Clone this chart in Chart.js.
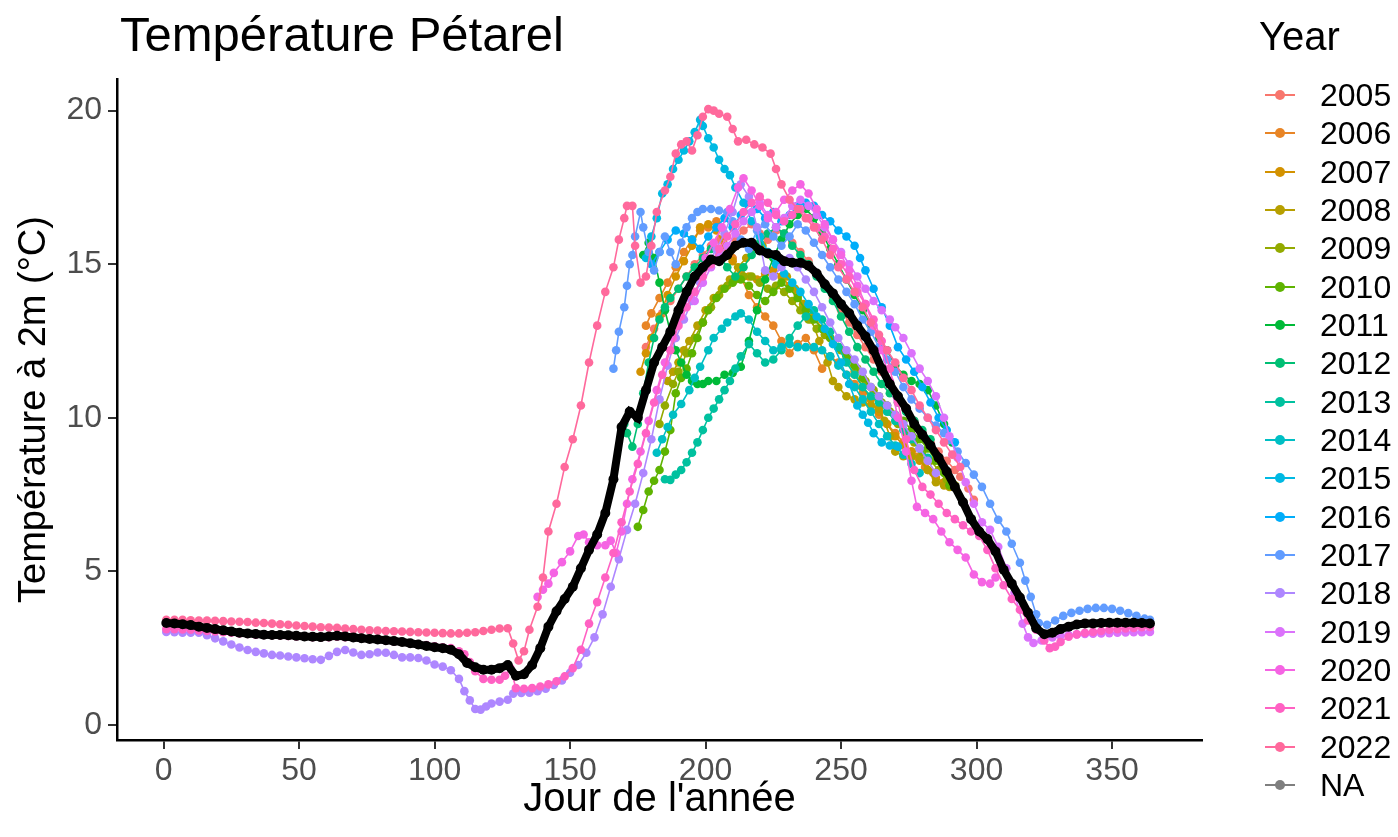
<!DOCTYPE html>
<html>
<head>
<meta charset="utf-8">
<script src="https://cdn.jsdelivr.net/npm/chart.js@4.4.1/dist/chart.umd.min.js"></script>
<style>
  body { margin: 0; background: #fff; }
  #wrap { position: relative; width: 1398px; height: 837px; background: #fff; font-family: "Liberation Sans", Arial, sans-serif; }
  #title { position: absolute; left: 120px; top: 10px; font-size: 49px; line-height: 48px; color: #000; white-space: nowrap; }
  #legTitle { position: absolute; left: 1259px; top: 16px; font-size: 40px; line-height: 40px; color: #000; }
  .legItem { position: absolute; left: 1262px; height: 32px; }
  .legItem .ln { position: absolute; left: 3px; top: 15px; width: 30px; height: 2px; }
  .legItem .dt { position: absolute; left: 13px; top: 11px; width: 10px; height: 10px; border-radius: 50%; }
  .legItem .tx { position: absolute; left: 58px; top: 0; font-size: 32px; line-height: 32px; color: #000; white-space: nowrap; }
</style>
</head>
<body>
<div id="wrap">
  <canvas id="chart" width="1398" height="837"></canvas>
  <div id="title">Température Pétarel</div>
  <div id="legTitle">Year</div>
  <div id="legend"></div>
</div>
<script>
// axes
const DAY_TICKS = [0, 50, 100, 150, 200, 250, 300, 350];
const TEMP_TICKS = [0, 5, 10, 15, 20];

// années et couleurs (palette ggplot)
const years = ['2005', '2006', '2007', '2008', '2009', '2010', '2011', '2012', '2013',
  '2014', '2015', '2016', '2017', '2018', '2019', '2020', '2021', '2022'];
const yearColors = ['#F8766D', '#E88526', '#D39200', '#B79F00', '#93AA00', '#5EB300', '#00BA38', '#00BF74', '#00C19F',
  '#00BFC4', '#00B9E3', '#00ADFA', '#619CFF', '#AE87FF', '#DB72FB', '#F564E3', '#FF61C3', '#FF699C'];

// [jour, température]
const t2005 = [[178,12.3],[181,12.9],[184,13.4],[187,13.8],[190,14.2],[193,14.6],[196,15.0],[199,15.3],[202,15.6],[205,15.8],[208,15.5],[211,15.8],[214,16.1],[217,16.3],[220,16.0],[223,15.8],[226,16.1],[229,16.0],[232,15.7],[235,15.4],[238,15.1],[241,14.7],[244,14.3],[247,13.9],[250,13.5],[253,13.1],[256,12.7],[259,12.3],[262,11.9],[265,11.5],[268,11.1],[271,10.7],[274,10.3],[277,9.9],[280,9.5],[283,9.2],[286,8.9],[289,8.6],[292,8.3],[294,8.08],[297,7.7],[299,7.33]];
const t2006 = [[178,13.0],[180,13.4],[183,13.9],[186,14.4],[189,14.9],[192,15.4],[195,15.8],[198,16.1],[201,16.2],[204,16.4],[207,15.9],[210,15.2],[213,14.6],[216,14.0],[219,13.6],[222,13.3],[225,13.0],[228,12.5],[231,12.1],[234,12.4],[237,12.6],[240,12.2],[243,11.6],[246,12.0],[249,11.8],[252,11.4],[255,11.1],[258,10.8],[261,10.4],[264,10.1],[267,9.8],[270,9.5],[273,9.2],[276,8.9],[278,8.73],[281,8.4],[284,8.2]];
const t2007 = [[176,11.5],[178,12.1],[180,12.6],[183,13.3],[186,14.0],[189,14.6],[192,15.1],[195,15.6],[198,16.2],[201,16.3],[204,16.1],[207,15.6],[210,15.1],[213,14.8],[216,14.6],[219,14.5],[222,14.7],[225,14.8],[228,14.6],[231,14.3],[234,14.0],[237,13.6],[240,13.3],[243,12.9],[246,12.6],[249,12.3],[252,11.9],[255,11.5],[258,11.0],[261,10.6],[264,10.2],[267,9.8],[270,9.4],[273,9.1],[276,8.9],[279,8.6],[282,8.3],[285,8.05],[288,7.9]];
const t2008 = [[186,11.2],[188,11.5],[190,11.8],[192,12.2],[194,12.5],[197,13.0],[200,13.5],[203,13.9],[206,14.2],[209,14.5],[212,14.9],[215,15.2],[218,15.5],[221,15.6],[224,15.3],[227,15.0],[230,14.6],[233,14.2],[236,13.7],[239,13.2],[242,12.5],[245,11.8],[247,11.2],[249,11.0],[252,10.7],[255,10.6],[258,10.5],[261,10.4],[264,10.3],[266,9.9],[268,9.4],[270,8.9],[273,8.75],[276,8.75],[279,8.7],[282,8.3],[285,7.9],[288,7.8],[290,7.75]];
const t2009 = [[183,9.8],[185,10.4],[188,11.1],[190,11.5],[193,12.1],[196,12.6],[199,13.1],[202,13.6],[205,14.0],[208,14.3],[211,14.5],[214,14.6],[217,14.6],[220,14.4],[223,14.2],[226,14.3],[229,14.1],[232,13.8],[235,13.5],[238,13.2],[241,12.9],[244,12.7],[247,12.5],[250,12.2],[253,11.9],[256,11.6],[259,11.2],[262,10.9],[265,10.5],[268,10.2],[271,9.8],[274,9.5],[277,9.2],[280,8.9],[283,8.6],[286,8.3],[289,8.0],[292,7.8]];
const t2010 = [[175,6.45],[177,7.0],[179,7.6],[181,7.95],[183,8.3],[185,8.9],[187,9.6],[189,10.8],[191,11.3],[193,11.6],[195,12.1],[197,12.6],[199,13.1],[201,13.5],[204,13.9],[207,14.2],[210,14.4],[213,14.5],[216,14.3],[219,14.0],[222,13.8],[225,14.1],[228,14.4],[231,14.2],[234,13.9],[237,13.5],[240,13.2],[243,12.9],[246,12.6],[249,12.3],[252,12.0],[255,11.7],[258,11.3],[261,11.0],[264,10.7],[267,10.4],[270,10.1],[273,9.9],[276,9.6],[279,9.3],[282,9.0],[285,8.6],[288,8.2],[290,7.8]];
const t2011 = [[177,15.3],[179,15.7],[181,15.2],[183,14.4],[185,13.5],[187,12.8],[189,12.2],[191,11.8],[193,11.4],[195,11.2],[197,11.1],[199,11.1],[201,11.2],[204,11.2],[207,11.4],[210,11.46],[213,11.66],[216,12.5],[219,13.5],[222,14.5],[225,15.2],[228,15.8],[231,16.3],[234,16.6],[237,16.8],[240,16.5],[243,16.0],[246,15.5],[249,15.0],[252,14.5],[255,14.0],[258,13.5],[261,13.0],[264,12.6],[267,12.2],[270,11.7],[273,11.4],[276,11.2],[279,11.1],[282,10.9],[285,10.4],[288,9.8],[291,9.2]];
const t2012 = [[170,9.8],[171,9.5],[173,9.06],[175,9.8],[177,10.8],[179,11.8],[181,12.6],[183,13.2],[185,13.6],[187,13.9],[190,14.2],[193,14.6],[196,14.9],[199,15.2],[202,15.5],[205,15.3],[208,14.9],[211,14.6],[214,14.9],[217,15.3],[220,15.7],[223,16.0],[226,16.2],[229,16.0],[232,15.6],[235,15.3],[238,15.0],[241,14.6],[244,14.2],[247,13.8],[250,13.3],[253,12.8],[256,12.3],[259,11.9],[262,11.5],[265,11.1],[268,10.8],[271,10.5],[274,10.2],[277,9.9],[280,9.6],[283,9.3]];
const t2013 = [[185,8.0],[187,7.98],[189,8.15],[191,8.3],[193,8.55],[195,8.86],[197,9.2],[199,9.6],[201,10.0],[203,10.3],[205,10.6],[207,10.9],[209,11.2],[211,11.6],[213,12.0],[216,12.4],[219,12.1],[222,11.8],[225,11.9],[228,12.2],[231,12.6],[234,13.0],[237,13.3],[240,13.5],[243,13.2],[246,12.8],[249,12.3],[252,11.8],[255,11.4],[258,11.0],[261,10.7],[264,10.5],[267,10.2],[270,9.9],[273,9.6],[276,9.3],[279,9.0],[282,8.7]];
const t2014 = [[182,8.86],[184,9.3],[186,9.7],[188,10.1],[191,10.45],[194,10.9],[196,11.3],[198,11.66],[201,12.2],[203,12.6],[206,12.9],[208,13.1],[211,13.3],[213,13.4],[216,13.2],[219,12.8],[222,12.5],[225,12.2],[228,12.3],[231,12.4],[234,12.3],[237,12.3],[240,12.3],[243,12.2],[246,12.0],[249,11.7],[252,11.4],[255,11.0],[258,10.6],[261,10.2],[264,9.8],[267,9.4],[270,9.1],[273,8.8],[276,8.5],[279,8.2]];
const t2015 = [[178,15.2],[180,15.9],[182,16.5],[184,17.3],[186,17.6],[188,18.1],[190,18.4],[192,18.7],[194,19.0],[196,19.3],[198,19.7],[199,19.5],[201,19.1],[203,18.8],[205,18.4],[207,18.1],[209,17.9],[211,17.5],[214,17.0],[217,16.4],[220,15.9],[223,15.4],[226,15.0],[229,14.7],[232,14.4],[235,14.1],[238,13.7],[241,13.3],[244,12.9],[247,12.4],[250,11.8],[253,11.1],[256,10.4],[258,10.1],[260,9.84],[262,9.5],[265,9.2],[268,9.1],[271,9.06]];
const t2016 = [[180,15.0],[183,15.4],[186,15.8],[189,16.1],[192,16.0],[195,15.8],[198,15.5],[201,15.9],[204,16.2],[207,16.5],[210,16.2],[213,16.6],[216,17.0],[219,16.8],[222,16.5],[225,16.7],[228,16.4],[231,16.6],[234,16.9],[237,17.0],[240,16.9],[243,16.6],[246,16.4],[249,16.1],[252,15.9],[255,15.6],[257,15.2],[259,14.8],[262,14.2],[265,13.6],[268,13.0],[271,12.3],[274,11.9],[277,11.5],[280,11.0],[283,10.5],[286,10.0],[289,9.6],[292,9.2]];
const t2017 = [[166,11.6],[167,12.2],[168,12.8],[170,13.6],[171,14.3],[172,15.0],[173,15.3],[174,15.9],[176,16.7],[177,16.2],[179,15.4],[181,14.8],[183,15.4],[185,15.9],[187,15.4],[189,15.0],[191,15.7],[193,16.2],[195,16.5],[197,16.7],[199,16.8],[202,16.8],[205,16.75],[208,16.7],[210,16.4],[213,15.8],[216,15.5],[219,16.1],[222,16.3],[225,15.9],[228,15.6],[231,15.9],[234,16.3],[237,16.1],[240,15.7],[243,15.3],[246,14.9],[249,14.5],[252,14.1],[255,13.7],[258,13.2],[261,12.8],[264,12.3],[267,11.9],[270,11.5],[273,11.0],[276,10.6],[279,10.3],[282,10.0],[285,9.75],[288,9.5],[290,9.28],[293,8.9],[296,8.53],[299,8.15],[302,7.75],[305,7.2],[308,6.68],[311,6.3],[313,5.9],[316,5.28],[318,4.7],[320,4.17],[322,3.6],[323,3.32],[326,3.26],[329,3.4],[332,3.55],[335,3.65],[338,3.72],[341,3.78],[344,3.81],[347,3.81],[350,3.78],[353,3.72],[356,3.64],[359,3.55],[362,3.46],[364,3.42]];
const t2018 = [[1,3.03],[4,3.02],[7,3.0],[10,3.0],[13,3.0],[16,2.92],[19,2.82],[22,2.72],[25,2.62],[28,2.52],[31,2.44],[34,2.38],[37,2.33],[40,2.28],[43,2.26],[46,2.23],[49,2.2],[52,2.17],[55,2.14],[58,2.12],[61,2.25],[64,2.38],[67,2.44],[70,2.36],[73,2.28],[76,2.3],[79,2.36],[82,2.35],[85,2.28],[88,2.2],[91,2.2],[94,2.18],[97,2.1],[100,1.97],[103,1.9],[106,1.78],[109,1.5],[111,1.1],[113,0.8],[115,0.52],[117,0.5],[119,0.6],[121,0.7],[124,0.76],[127,0.82],[129,1.02],[132,1.04],[135,1.05],[138,1.1],[141,1.18],[144,1.3],[147,1.45],[150,1.7],[153,1.95],[156,2.35],[159,2.85],[162,3.6],[165,4.5],[168,5.4],[171,6.35],[174,7.2],[177,8.2],[180,9.3],[183,10.6],[186,11.7],[189,12.6],[192,13.2],[195,13.8],[198,14.4],[201,15.0],[204,15.5],[207,16.0],[210,16.7],[213,17.6],[216,17.2],[219,16.2],[222,14.8],[225,14.6],[228,14.9],[231,15.2],[234,14.9],[237,14.5],[240,14.1],[243,13.6],[246,13.1],[249,12.6],[252,12.2],[255,11.9],[258,11.5],[261,11.0],[264,10.7],[267,10.4],[270,10.1],[273,9.8],[276,9.4],[279,9.0],[282,8.6],[285,8.2]];
const t2019 = [[196,13.8],[199,14.4],[202,14.9],[205,15.3],[208,15.6],[211,16.0],[214,16.4],[217,16.7],[220,17.0],[223,16.6],[226,16.2],[229,16.5],[232,16.9],[235,17.1],[238,16.9],[241,16.6],[244,16.2],[247,15.8],[250,15.4],[253,15.0],[256,14.6],[259,14.2],[262,13.8],[265,13.5],[268,13.2],[270,12.95],[273,12.6],[276,12.1],[279,11.6],[282,11.2],[285,10.7],[288,10.0],[290,9.4],[293,8.7],[296,7.9],[299,7.2],[302,6.6],[305,6.35],[308,5.8],[311,5.1],[314,4.3],[317,3.3],[319,2.85],[321,2.67],[324,2.75],[328,2.85],[331,2.9],[334,2.93],[337,2.95],[340,2.96],[343,2.97],[346,2.98],[349,2.99],[352,3.0],[355,3.01],[358,3.02],[361,3.02],[364,3.03]];
const t2020 = [[138,4.17],[140,4.4],[142,4.6],[144,4.95],[147,5.3],[150,5.65],[153,6.15],[155,6.2],[157,5.95],[160,5.85],[163,5.85],[165,6.0],[167,5.6],[169,6.3],[171,7.2],[173,8.0],[176,8.9],[179,9.9],[182,10.9],[185,11.8],[188,12.6],[191,13.3],[194,14.0],[197,14.6],[200,15.2],[203,15.7],[206,16.2],[209,16.8],[212,17.5],[214,17.8],[217,17.4],[220,16.9],[223,16.5],[226,16.7],[229,17.1],[232,17.4],[235,17.6],[238,17.3],[241,16.8],[244,16.3],[247,15.8],[250,15.3],[253,14.8],[256,14.3],[259,13.7],[262,13.0],[265,12.2],[268,11.2],[271,10.0],[274,8.9],[276,7.95],[278,7.1],[281,6.9],[284,6.7],[287,6.3],[290,5.95],[293,5.7],[296,5.45],[299,4.9],[302,4.65],[305,4.6],[307,4.8]];
const t2021 = [[1,3.12],[4,3.12],[7,3.11],[10,3.1],[13,3.08],[16,3.06],[19,3.04],[22,3.02],[25,3.0],[28,2.98],[31,2.96],[34,2.94],[37,2.93],[40,2.92],[43,2.91],[46,2.9],[49,2.88],[52,2.87],[55,2.86],[58,2.85],[61,2.86],[64,2.87],[67,2.86],[70,2.84],[73,2.82],[76,2.8],[79,2.78],[82,2.75],[85,2.72],[88,2.7],[91,2.66],[94,2.63],[97,2.6],[100,2.56],[103,2.53],[106,2.5],[109,2.4],[111,2.3],[113,2.05],[115,1.75],[118,1.5],[121,1.47],[124,1.47],[126,1.6],[128,1.85],[130,1.2],[133,1.18],[136,1.2],[139,1.25],[142,1.32],[145,1.42],[148,1.58],[151,1.85],[154,2.45],[157,3.3],[160,4.0],[163,4.8],[166,5.6],[169,6.6],[172,7.6],[175,8.5],[178,9.5],[181,10.5],[184,11.4],[187,12.2],[190,13.0],[193,13.6],[196,14.1],[199,14.6],[202,15.0],[205,15.5],[208,15.9],[211,16.3],[214,16.7],[217,17.0],[220,17.2],[223,17.0],[226,16.6],[229,16.4],[232,16.6],[235,16.8],[238,16.5],[241,16.2],[244,15.9],[247,15.5],[250,15.0],[253,14.6],[256,14.1],[259,13.7],[262,13.2],[265,12.5],[268,11.6],[271,10.5],[274,9.3],[277,8.3],[280,7.75],[283,7.5],[286,7.2],[289,6.9],[292,6.7],[295,6.5],[298,6.3],[301,6.15],[304,5.7],[307,5.1],[310,4.55],[313,4.1],[316,3.75],[319,3.4],[322,3.1],[325,2.75],[327,2.5],[329,2.55],[331,2.7],[334,2.87],[337,2.95],[340,3.0],[343,3.03],[346,3.06],[349,3.1],[352,3.12],[355,3.14],[358,3.16],[361,3.18],[364,3.19]];
const t2022 = [[1,3.42],[4,3.42],[7,3.42],[10,3.41],[13,3.4],[16,3.4],[19,3.39],[22,3.38],[25,3.37],[28,3.36],[31,3.35],[34,3.33],[37,3.32],[40,3.3],[43,3.28],[46,3.26],[49,3.24],[52,3.22],[55,3.2],[58,3.18],[61,3.17],[64,3.16],[67,3.14],[70,3.12],[73,3.1],[76,3.08],[79,3.07],[82,3.06],[85,3.05],[88,3.04],[91,3.03],[94,3.02],[97,3.01],[100,3.0],[103,2.99],[106,2.98],[109,2.98],[112,3.0],[115,3.02],[118,3.06],[121,3.1],[124,3.14],[127,3.15],[129,2.65],[131,2.1],[133,2.4],[135,3.1],[138,3.85],[140,4.8],[142,6.3],[145,7.2],[148,8.4],[151,9.3],[154,10.4],[157,11.8],[160,13.0],[163,14.1],[166,14.9],[168,15.8],[170,16.5],[171,16.9],[173,16.9],[174,15.6],[176,14.4],[178,14.6],[180,15.6],[182,16.7],[185,17.4],[187,17.85],[189,18.6],[191,18.9],[193,19.0],[195,18.7],[197,19.2],[199,19.8],[201,20.05],[203,20.0],[205,19.9],[208,19.8],[210,19.4],[212,19.0],[215,19.05],[218,18.9],[221,18.8],[224,18.6],[226,18.1],[228,17.6],[231,17.1],[234,16.8],[237,16.5],[240,16.2],[243,15.8],[246,15.3],[249,14.9],[252,14.5],[255,14.1],[258,13.6],[261,13.1],[264,12.7],[267,12.2],[270,11.8],[273,11.3],[276,10.9],[279,10.4],[282,10.0],[285,9.6],[288,9.2],[291,8.8],[294,8.4]];

// moyenne toutes années
const meanTemp = [[1,3.32],[4,3.3],[7,3.28],[10,3.25],[13,3.2],[16,3.16],[19,3.12],[22,3.08],[25,3.04],[28,3.0],[31,2.98],[34,2.96],[37,2.94],[40,2.93],[43,2.93],[46,2.92],[49,2.9],[52,2.88],[55,2.87],[58,2.86],[61,2.88],[64,2.9],[67,2.88],[70,2.85],[73,2.82],[76,2.8],[79,2.78],[82,2.76],[85,2.73],[88,2.7],[91,2.66],[94,2.62],[97,2.57],[100,2.53],[103,2.5],[106,2.45],[109,2.3],[112,2.02],[115,1.88],[118,1.8],[121,1.8],[124,1.85],[127,1.95],[130,1.6],[133,1.65],[136,1.95],[139,2.5],[142,3.2],[145,3.7],[148,4.1],[151,4.5],[154,5.1],[157,5.7],[160,6.2],[163,6.9],[166,8.0],[169,9.7],[172,10.2],[175,10.0],[178,10.9],[181,11.8],[184,12.3],[187,12.8],[190,13.5],[193,14.1],[196,14.6],[199,14.9],[202,15.15],[205,15.1],[208,15.3],[211,15.6],[214,15.7],[217,15.7],[220,15.45],[223,15.35],[226,15.3],[229,15.1],[232,15.05],[235,15.05],[238,14.95],[241,14.7],[244,14.35],[247,14.05],[250,13.7],[253,13.4],[256,13.0],[259,12.65],[262,12.2],[265,11.6],[268,11.1],[271,10.7],[274,10.3],[277,9.8],[280,9.45],[283,9.1],[286,8.7],[289,8.25],[292,7.75],[295,7.25],[298,6.7],[301,6.3],[304,6.05],[307,5.65],[310,5.05],[313,4.6],[316,4.15],[319,3.65],[322,3.15],[325,2.95],[328,3.0],[331,3.12],[334,3.2],[337,3.27],[340,3.3],[343,3.3],[346,3.32],[349,3.33],[352,3.33],[355,3.33],[358,3.33],[361,3.32],[364,3.3]];

const yearSeries = [t2005, t2006, t2007, t2008, t2009, t2010, t2011, t2012, t2013,
  t2014, t2015, t2016, t2017, t2018, t2019, t2020, t2021, t2022];

const FONT = '"Liberation Sans", Arial, sans-serif';
const toXY = arr => arr.map(p => ({ x: p[0], y: p[1] }));

// jeux de données : moyenne au-dessus, 2022 au-dessus de 2005
const datasets = [{
  label: 'moyenne',
  data: toXY(meanTemp),
  borderColor: '#000000',
  backgroundColor: '#000000',
  borderWidth: 8,
  pointRadius: 5,
  pointBorderWidth: 0,
  order: 0,
}];
yearSeries.forEach((s, i) => {
  datasets.push({
    label: years[i],
    data: toXY(s),
    borderColor: yearColors[i],
    backgroundColor: yearColors[i],
    borderWidth: 1.6,
    pointRadius: 4.3,
    pointBorderWidth: 0,
    order: yearSeries.length - i,
  });
});

new Chart(document.getElementById('chart').getContext('2d'), {
  type: 'line',
  data: { datasets: datasets },
  options: {
    responsive: false,
    animation: false,
    events: [],
    layout: { padding: { left: 0, top: 79, right: 196, bottom: 0 } },
    plugins: { legend: { display: false }, tooltip: { enabled: false } },
    scales: {
      x: {
        type: 'linear',
        min: -17.2,
        max: 383.2,
        afterBuildTicks: s => { s.ticks = DAY_TICKS.map(v => ({ value: v })); },
        afterFit: s => { s.height = 97; },
        grid: { drawOnChartArea: false, drawTicks: true, tickLength: 9, color: '#333333', lineWidth: 2 },
        border: { color: '#000000', width: 2.5 },
        ticks: { font: { family: FONT, size: 32 }, color: '#4D4D4D', padding: 3, maxRotation: 0, autoSkip: false },
        title: { display: true, text: "Jour de l'année", font: { family: FONT, size: 40 }, color: '#000000', padding: { top: 0, bottom: 13 } },
      },
      y: {
        type: 'linear',
        min: -0.49,
        max: 21.03,
        afterBuildTicks: s => { s.ticks = TEMP_TICKS.map(v => ({ value: v })); },
        afterFit: s => { s.width = 117; },
        grid: { drawOnChartArea: false, drawTicks: true, tickLength: 9, color: '#333333', lineWidth: 2 },
        border: { color: '#000000', width: 2.5 },
        ticks: { font: { family: FONT, size: 32 }, color: '#4D4D4D', padding: 6 },
        title: { display: true, text: 'Température à 2m (°C)', font: { family: FONT, size: 38 }, color: '#000000', padding: { top: 12, bottom: 0 } },
      },
    },
  },
});

// légende
const legend = document.getElementById('legend');
const legendLabels = years.concat(['NA']);
const legendColors = yearColors.concat(['#7F7F7F']);
legendLabels.forEach((lab, i) => {
  const yc = 95 + i * 38.33;
  const item = document.createElement('div');
  item.className = 'legItem';
  item.style.top = (yc - 16) + 'px';
  item.innerHTML = '<div class="ln" style="background:' + legendColors[i] + '"></div>' +
    '<div class="dt" style="background:' + legendColors[i] + '"></div>' +
    '<div class="tx">' + lab + '</div>';
  legend.appendChild(item);
});
</script>
</body>
</html>
